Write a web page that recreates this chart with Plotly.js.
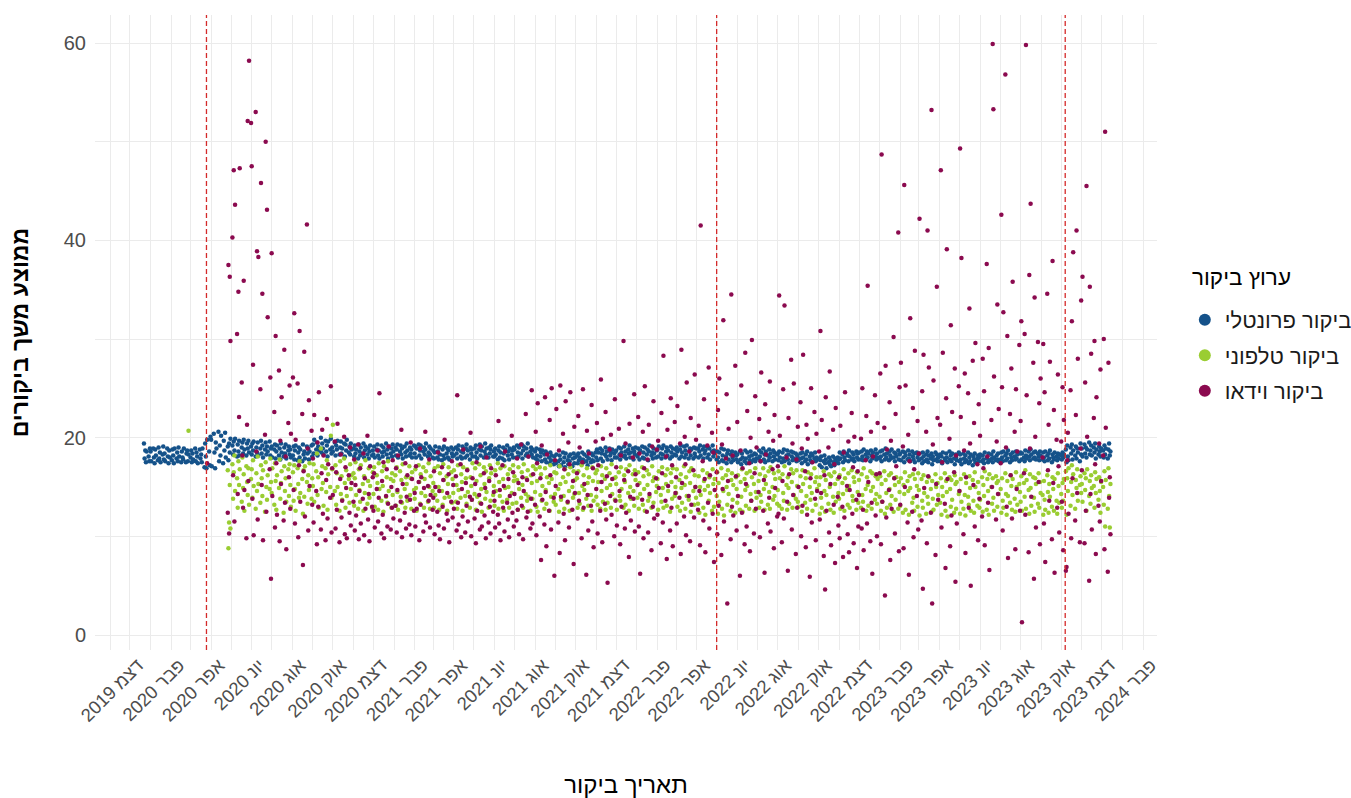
<!DOCTYPE html>
<html lang="he">
<head>
<meta charset="utf-8">
<script src="https://cdn.plot.ly/plotly-3.0.1.min.js"></script>
<style>
  html, body { margin: 0; padding: 0; background: #ffffff; }
  #chart { width: 1351px; height: 798px; }
</style>
</head>
<body>
<div id="chart"></div>
<script>
// Daily mean visit duration by visit channel.
// Each inner list holds one month of values, one per working day (Sun-Thu).

// ---- In-person visits (first value: 2019-12-22) ----
const inPersonStart = '2019-12-22';
const inPerson2019 = [
  [19.4,17.9,18.7,17.5,18.6,18.1,17.6,18.9]
];
const inPerson2020 = [
  [18.6,17.6,18.9,18.0,17.4,18.8,18.2,17.7,19.0,17.9,18.5,17.5,18.3,19.1,17.8,18.4,17.6,18.9,18.1,17.4,18.7,18.0],
  [17.7,18.8,18.2,17.4,18.9,17.9,18.5,17.6,19.0,18.1,17.5,18.6,18.0,17.8,18.9,17.5,18.4,18.7,17.6,18.3],
  [18.0,18.7,17.5,18.4,17.8,18.9,17.6,18.5,18.1,17.4,18.8,17.9,18.3,17.5,18.9,17.0,19.4,18.1,16.9,19.8,18.6,17.2,20.1],
  [19.8,17.1,20.4,18.5,16.9,19.5,18.9,20.6,17.6,19.2,18.2,20.2,17.4,19.7,18.7,20.5,18.0,19.1,17.7,19.4,18.5,19.9],
  [19.2,18.3,19.6,18.7,19.9,18.1,19.3,18.6,19.7,18.2,19.0,19.5,18.4,19.8,18.8,18.2,19.4,18.9,19.7,18.5,19.1],
  [18.3,19.4,18.7,19.6,18.1,19.0,18.5,19.5,18.2,18.9,19.7,18.4,19.2,18.0,18.8,19.5,18.3,19.1,18.6,19.6,18.2,18.9],
  [19.1,18.0,18.8,19.3,17.9,18.6,19.2,18.2,18.9,17.8,19.4,18.5,18.1,19.0,18.4,19.3,17.9,18.7,19.1,18.3,18.8,18.0],
  [18.2,19.1,17.8,18.7,19.2,17.7,18.5,19.0,18.0,18.8,17.6,19.3,18.3,18.6,17.9,19.1,18.4,18.9,17.8,18.6,19.2,18.1],
  [19.3,18.4,19.8,18.8,19.5,18.2,19.1,18.7,20.0,18.5,19.4,18.9,18.3,19.7,18.6,19.2,18.1,19.6,18.8,19.9,18.4,19.0],
  [18.6,19.5,18.2,19.2,18.8,19.7,18.3,19.0,19.6,18.4,18.9,19.4,18.1,19.3,18.7,19.8,18.5,19.1,18.3,19.4,18.8],
  [18.9,18.1,19.2,18.4,18.8,17.9,19.3,18.6,18.2,19.0,18.4,19.4,18.0,18.7,19.1,18.3,18.9,17.9,18.6,19.2,18.2,18.7],
  [18.3,19.1,18.0,18.8,19.3,18.2,18.7,17.9,19.2,18.5,18.1,19.0,18.6,19.4,18.3,18.8,17.9,19.1,18.4,18.9,18.1,19.3,18.6]
];
const inPerson2021 = [
  [19.0,18.2,18.8,19.3,18.0,18.6,19.2,18.3,18.9,17.9,19.1,18.5,18.1,19.4,18.7,18.2,19.0,18.4,18.8,18.0,19.2],
  [18.4,19.1,18.0,18.9,19.3,18.2,18.7,19.2,17.9,18.6,19.0,18.3,18.8,19.4,18.1,18.5,19.1,18.3,18.9,18.0],
  [18.7,17.9,18.5,19.1,18.0,18.6,17.8,19.0,18.3,17.7,18.8,18.2,19.1,17.9,18.4,18.9,18.0,18.7,17.8,19.0,18.4,18.1,18.8],
  [18.2,19.0,18.4,17.9,18.8,19.2,18.1,18.6,17.9,19.1,18.5,18.0,18.9,19.3,18.2,18.7,17.8,19.0,18.4,18.8,18.1],
  [18.9,18.1,19.2,18.5,17.9,18.8,19.3,18.2,18.7,19.1,18.0,18.6,19.4,18.3,18.9,18.0,19.0,18.4,18.8,19.2,18.1,18.6],
  [18.1,18.9,18.3,17.8,18.7,19.1,18.0,18.5,17.9,19.0,18.4,17.7,18.8,19.2,18.2,18.6,17.8,18.9,18.3,18.7,18.0,19.0],
  [18.8,18.0,19.2,18.5,18.1,19.0,18.4,19.3,17.9,18.7,19.1,18.2,18.9,18.4,19.4,18.1,18.6,19.0,18.3,18.8,18.0],
  [18.6,17.9,18.9,18.2,17.7,18.8,18.1,18.5,17.6,18.7,18.3,17.8,18.6,17.5,18.4,18.0,17.4,18.5,17.7,18.2,17.3,18.1,17.6],
  [17.4,18.3,17.6,17.1,18.2,17.8,17.2,18.5,17.5,18.0,17.0,18.4,17.7,17.3,18.1,17.6,18.3,17.1,17.9,18.4,17.4,18.0],
  [18.2,17.4,18.4,17.7,18.0,17.3,18.5,17.8,17.5,18.3,17.6,18.1,17.2,18.6,17.9,17.5,18.4,17.7,18.2,17.6,18.5],
  [18.0,18.8,17.7,18.5,18.9,17.9,18.4,18.7,17.6,18.3,19.0,18.1,18.6,17.8,18.9,18.2,18.5,17.7,18.8,18.4,18.0,18.6],
  [18.7,18.0,19.0,18.3,17.8,18.9,18.5,18.1,19.1,18.2,18.6,17.9,18.8,18.4,19.2,18.0,18.5,18.9,17.8,18.6,18.3,19.0]
];
const inPerson2022 = [
  [18.1,18.9,18.4,17.8,18.7,19.1,18.0,18.5,17.9,19.0,18.3,18.8,17.7,18.6,19.2,18.2,18.5,17.9,18.9,18.4,18.0,18.7],
  [18.8,18.1,19.1,18.4,17.9,18.9,18.3,19.2,18.0,18.6,19.0,18.2,18.7,17.9,19.1,18.5,18.1,18.9,18.3,18.8],
  [18.2,19.0,18.6,17.9,18.8,19.2,18.1,18.5,19.1,18.0,18.7,18.3,19.2,17.9,18.6,18.9,18.2,18.8,17.9,19.0,18.4,18.1,18.9],
  [18.9,18.0,18.6,19.2,18.2,18.8,17.9,19.1,18.4,18.7,18.0,19.0,18.3,18.9,17.8,18.6,19.2,18.1,18.7,18.4],
  [17.8,18.6,18.0,17.5,18.5,18.9,17.7,18.2,17.6,18.8,18.1,17.4,18.4,18.7,17.8,18.3,17.5,18.6,18.0,17.7,18.5,18.2,17.8],
  [18.3,17.5,18.6,17.8,17.3,18.4,18.0,17.6,18.7,17.9,17.4,18.5,18.1,17.7,18.6,17.5,18.2,17.8,18.4,17.6,18.3,17.9],
  [17.9,18.7,18.1,17.6,18.5,18.9,17.8,18.3,17.5,18.6,18.2,17.7,18.8,18.0,18.4,17.6,18.7,18.1,18.5,17.8,18.3],
  [18.4,17.7,18.6,18.0,17.5,18.5,17.9,18.8,17.6,18.2,18.7,17.8,18.3,17.4,18.6,18.1,17.7,18.5,17.9,18.4,17.6,18.2,18.0],
  [17.7,18.4,17.9,17.4,18.5,18.0,17.6,18.3,17.8,18.6,17.3,18.1,17.7,18.4,17.5,18.2,17.9,18.5,17.6,18.0,17.8],
  [17.9,17.2,17.7,18.1,17.0,17.6,18.2,17.4,17.8,16.9,17.5,18.0,17.3,17.7,17.1,18.1,17.5,17.2,17.9,17.6,18.0,17.4],
  [17.8,18.5,17.9,18.3,17.5,18.6,18.0,17.7,18.4,18.2,17.6,18.7,18.1,17.8,18.5,17.9,18.3,17.6,18.6,18.0,18.4,17.8],
  [18.5,17.8,18.6,18.1,17.7,18.8,18.3,17.9,18.6,18.0,18.4,17.6,18.7,18.2,17.9,18.5,18.1,18.8,17.8,18.4,18.0]
];
const inPerson2023 = [
  [17.9,18.6,18.1,17.6,18.7,18.3,17.8,18.9,18.0,18.4,17.7,18.6,18.2,17.9,18.8,18.0,18.5,17.6,18.4,18.1,18.7,17.8,18.3],
  [18.4,17.7,18.6,18.0,17.5,18.5,18.2,17.8,18.7,17.9,18.3,17.6,18.6,18.1,17.8,18.4,17.5,18.5,18.0,18.3],
  [17.7,18.4,17.9,17.4,18.5,18.1,17.6,18.3,17.8,18.6,17.5,18.2,17.9,18.4,17.3,18.1,17.7,18.5,17.8,18.3,17.6,18.0],
  [18.3,17.6,18.1,17.4,18.5,17.9,17.7,18.4,18.0,17.5,18.6,17.8,18.2,17.6,18.4,17.9,17.3,18.3,18.0,17.7,18.5],
  [17.6,18.3,17.8,17.3,18.4,17.9,17.5,18.2,17.7,18.5,17.4,18.0,17.6,18.3,17.2,18.1,17.8,18.4,17.5,17.9,18.2,17.6,18.0],
  [18.3,17.6,18.2,17.8,17.4,18.5,17.9,18.1,17.5,18.4,17.7,18.3,17.9,17.5,18.6,18.0,17.7,18.2,17.8,18.4,17.6],
  [17.8,18.5,18.0,17.6,18.6,18.2,17.7,18.4,17.9,18.7,17.5,18.3,18.0,17.7,18.5,18.1,17.8,18.6,17.9,18.3,17.6,18.4],
  [18.5,17.8,18.4,18.0,17.6,18.7,18.2,17.9,18.6,18.1,17.7,18.8,18.3,17.9,18.5,18.0,18.6,17.8,18.4,18.1,17.7,18.6,18.2],
  [17.8,18.5,18.0,17.6,18.6,18.2,17.7,18.4,17.9,18.7,17.5,18.3,18.0,17.8,18.5,18.1,17.7,18.4,17.9,18.3],
  [18.2,17.8,18.5,18.0,18.3,18.8,17.5,19.2,18.1,17.7,19.0,18.4,19.3,17.8,18.7,18.2,19.1,17.9,18.9,18.5,17.6,19.4,18.3],
  [18.9,18.1,19.3,18.4,19.0,18.0,18.8,19.5,18.3,18.7,19.2,18.2,19.0,18.5,19.4,17.9,18.8,18.3,19.1,18.6,18.1,18.9],
  [18.7,18.0,19.2,18.3,18.9,17.9,18.8,19.4,18.2,18.6]
];

// ---- Phone visits (first value: 2020-04-26) ----
const phoneStart = '2020-04-26';
const phone2020 = [
  [16.7,8.8,11.4,15.2,10.8],
  [17.3,13.8,16.5,18.2,14.6,15.9,12.9,17.6,15.2,16.8,13.5,18.0,14.9,16.3,12.6,17.1,15.5,14.2,16.9,13.2,15.8],
  [16.8,13.9,17.7,15.1,12.8,16.4,14.6,18.1,15.3,13.4,17.2,15.9,14.1,16.7,12.5,17.5,15.0,13.7,16.2,14.8,17.9,15.5],
  [14.4,16.9,13.2,17.4,15.6,12.7,16.2,14.9,17.8,13.8,15.4,16.6,12.4,17.1,14.6,15.9,13.5,16.8,14.1,17.3,15.2,13.0],
  [16.5,13.6,17.2,14.8,12.6,16.9,15.3,13.9,17.6,14.4,15.8,12.3,16.7,14.0,17.1,15.5,13.3,16.2,14.7,17.4,13.8,15.9],
  [15.1,17.3,13.5,16.6,18.4,14.2,16.0,12.9,18.9,14.8,17.1,15.4,13.1,16.9,14.5,17.7,12.7,16.3,15.0,20.2,13.9,16.8],
  [21.3,14.6,17.2,13.2,16.4,15.0,12.6,17.6,14.3,16.1,13.7,17.9,15.4,12.9,16.7,14.1,15.8,13.4,17.3,14.8,16.2],
  [16.4,13.1,15.9,17.5,14.2,12.8,16.8,14.7,13.5,17.2,15.3,12.6,16.1,14.4,17.7,13.3,15.6,16.9,13.9,15.1,12.9,16.5],
  [14.3,17.0,13.0,16.2,15.4,12.7,17.4,14.8,13.6,16.6,15.1,12.5,17.1,14.0,16.0,13.4,17.6,14.6,15.8,12.9,16.4,14.2,15.6]
];
const phone2021 = [
  [16.2,13.1,17.0,14.5,12.7,16.6,14.0,15.7,13.4,17.3,14.8,12.9,16.0,15.3,13.6,17.1,14.2,15.9,12.8,16.5,14.7],
  [13.8,16.8,14.9,12.6,17.2,15.5,13.3,16.3,14.4,17.0,12.9,15.8,14.1,16.6,13.5,17.4,15.0,12.8,16.1,14.6],
  [15.4,12.9,16.9,14.2,13.6,17.1,15.0,12.7,16.4,14.6,13.2,17.3,15.7,13.9,16.1,12.6,15.3,17.0,14.0,16.5,13.4,15.8,14.4],
  [16.7,13.5,15.2,12.8,17.2,14.7,13.9,16.3,15.5,12.6,17.0,14.1,15.9,13.3,16.8,14.5,12.9,16.0,15.1,13.7,17.4],
  [14.3,16.9,12.7,15.6,14.0,17.3,13.4,16.2,14.8,12.5,17.0,15.3,13.8,16.6,14.5,12.9,15.9,17.2,13.6,16.4,14.2,15.1],
  [13.1,16.7,14.6,17.4,12.8,15.5,14.1,16.9,13.5,15.8,12.6,17.1,14.9,13.7,16.3,15.0,12.9,16.8,14.4,13.3,17.2,15.6],
  [16.1,13.4,15.7,12.7,17.0,14.8,13.9,16.5,15.2,12.9,17.3,14.3,15.9,13.6,16.7,14.0,12.6,16.2,15.4,13.8,17.1],
  [14.5,16.8,13.0,15.6,12.5,17.0,14.2,16.3,13.6,15.1,12.8,16.9,14.7,13.3,16.0,15.4,12.6,17.2,14.0,15.8,13.5,16.5,14.3],
  [13.2,16.4,14.8,12.5,17.1,15.3,13.7,16.0,14.1,12.8,16.8,15.5,13.4,16.3,14.6,12.6,17.0,15.0,13.9,16.6,14.3,15.7],
  [15.9,12.9,16.6,14.4,13.3,17.2,15.1,12.7,16.2,14.7,13.8,16.9,15.4,13.1,16.0,14.2,12.6,17.0,15.6,13.6,16.4],
  [14.0,16.7,13.2,15.5,12.8,17.1,14.6,16.2,13.5,15.8,12.7,16.9,14.9,13.4,16.4,15.2,12.9,17.3,14.3,15.9,13.7,16.0],
  [15.3,12.7,16.5,14.1,13.6,17.0,14.8,12.9,16.2,15.5,13.2,16.8,14.4,12.6,17.2,15.0,13.8,16.3,14.6,13.1,16.7,15.7]
];
const phone2022 = [
  [13.9,16.5,12.8,15.4,14.3,17.0,13.2,16.1,14.8,12.6,16.7,15.2,13.6,16.3,14.0,12.9,17.1,15.6,13.4,16.0,14.5,15.1],
  [15.8,12.7,16.6,14.2,13.5,17.0,14.9,12.9,16.2,15.3,13.1,16.8,14.6,12.5,16.4,15.5,13.8,16.9,14.1,15.0],
  [14.4,16.8,13.0,15.7,12.6,16.3,14.9,13.4,17.1,15.2,12.8,16.0,14.1,13.7,16.6,15.4,12.5,16.9,14.6,13.2,16.2,15.0,13.9],
  [13.3,16.1,12.4,15.0,14.2,16.7,12.9,15.6,14.7,12.2,16.4,15.1,13.6,16.0,14.4,12.6,16.8,15.3,13.0,15.8],
  [14.1,16.5,12.3,15.4,13.5,16.9,12.8,15.9,14.6,12.1,16.2,15.0,13.2,16.7,14.3,12.6,15.7,16.4,13.7,15.2,12.4,16.0,14.8],
  [13.4,16.2,12.7,15.5,14.0,16.8,12.5,15.8,14.7,13.1,16.4,15.1,12.8,16.6,14.3,13.6,16.0,15.3,12.6,16.9,14.5,13.9],
  [15.6,12.9,16.3,14.2,13.5,16.9,14.8,12.7,16.1,15.3,13.2,16.6,14.5,12.8,17.0,15.0,13.7,16.4,14.1,15.8,13.3],
  [14.7,16.6,13.1,15.9,12.8,16.3,14.4,13.6,17.1,15.2,12.7,16.0,14.9,13.3,16.8,15.5,12.9,16.4,14.2,13.8,16.7,15.1,13.5],
  [13.0,16.1,14.6,12.5,16.7,15.3,13.4,15.9,14.1,12.8,16.5,15.0,13.7,16.3,14.4,12.6,16.9,15.5,13.2,16.0,14.8],
  [15.2,12.3,16.0,13.9,12.9,16.6,14.6,12.5,15.7,14.2,13.3,16.3,15.0,12.7,16.1,14.0,12.4,16.5,15.3,13.5,15.8,14.4],
  [13.8,16.2,12.8,15.4,14.3,16.8,12.6,15.9,14.7,13.2,16.4,15.1,12.9,16.7,14.1,13.6,16.0,15.5,12.7,16.5,14.5,13.4],
  [15.7,12.9,16.3,14.2,13.5,16.9,14.8,12.6,16.0,15.2,13.1,16.6,14.6,12.8,16.4,15.0,13.7,16.1,14.3,13.3,15.8]
];
const phone2023 = [
  [14.0,16.1,12.6,15.3,13.5,16.6,12.3,15.7,14.4,12.9,16.2,14.8,13.2,16.4,14.1,12.5,15.9,15.2,13.7,16.0,12.8,15.5,14.5],
  [13.1,15.9,12.4,15.2,14.3,16.5,12.7,15.6,14.6,12.2,16.1,14.9,13.4,16.3,13.9,12.6,15.8,15.1,13.0,16.4],
  [14.7,12.1,15.8,13.6,12.9,16.2,14.4,12.3,15.5,14.0,13.3,16.0,14.8,12.5,15.6,13.8,12.7,16.3,15.0,13.2,15.4,14.2],
  [13.4,15.9,12.2,15.0,14.1,16.4,12.6,15.6,14.5,12.0,16.0,14.8,13.0,15.7,13.7,12.4,16.2,15.3,12.8,15.5,14.3],
  [14.6,12.3,15.8,13.5,12.8,16.3,14.2,12.1,15.4,14.0,13.2,16.1,14.9,12.6,15.7,13.6,12.4,16.5,15.0,13.1,15.5,14.4,12.9],
  [13.7,16.0,12.5,15.2,14.1,16.6,12.7,15.8,14.6,12.2,16.3,15.0,13.3,15.9,13.9,12.6,16.1,15.4,13.0,15.6,14.3],
  [14.8,12.4,15.9,13.6,12.9,16.4,14.3,12.2,15.6,14.1,13.4,16.2,15.1,12.7,15.8,13.8,12.5,16.5,15.0,13.2,15.3,14.5],
  [13.5,16.1,12.6,15.4,14.0,16.7,12.8,15.7,14.7,12.3,16.3,14.9,13.1,16.0,13.9,12.5,15.9,15.3,13.3,16.4,12.9,15.5,14.4],
  [14.2,12.2,15.6,13.7,12.7,16.2,14.5,12.4,15.3,14.0,13.0,16.0,14.8,12.6,15.8,13.6,12.3,16.4,15.1,13.4],
  [14.3,12.9,15.4,13.6,15.8,16.6,12.2,15.9,14.6,16.9,13.1,15.5,17.2,14.2,16.3,12.8,15.7,14.9,16.8,13.6,15.2,16.1,14.4],
  [15.3,13.5,16.4,14.7,15.9,12.6,16.8,14.1,15.6,13.3,16.2,14.9,15.1,12.9,16.5,14.4,15.8,13.7,16.0,14.6,12.4,15.5],
  [15.0,13.2,16.6,11.0,15.7,12.8,16.9,14.1,10.9,15.3]
];

// ---- Video visits (first value: 2020-04-26) ----
const videoStart = '2020-04-26';
const video2020 = [
  [12.4,37.5,10.3,36.3,29.8],
  [40.3,16.2,47.1,11.5,43.6,30.5,14.3,34.8,22.1,47.3,25.6,18.2,12.9,35.9,14.7,9.8,21.3,52.1,15.6,58.2,51.9],
  [47.5,13.8,27.4,10.1,53.0,18.6,38.9,11.7,38.3,24.9,45.8,15.2,34.6,9.6,20.3,50.0,12.5,43.1,32.2,16.8,26.1,5.7],
  [38.7,14.1,22.6,10.9,30.3,17.4,12.2,26.8,9.5,19.7,15.3,24.1,11.6,28.9,13.4,18.1,8.7,21.5,16.0,25.3,12.8,20.4],
  [26.1,14.7,32.6,11.3,19.8,25.5,9.9,17.2,30.8,13.5,22.4,7.1,16.6,28.7,12.0,41.6,18.9,10.6,23.8,15.1,20.7,13.2],
  [17.9,11.4,22.3,14.6,9.2,19.5,13.0,24.6,10.7,16.4,20.8,12.3,18.2,9.6,15.7,21.9,11.8,17.3,13.9,25.2,10.4,16.9],
  [14.2,19.6,10.8,16.5,12.7,21.4,9.4,15.8,18.3,11.9,13.6,20.1,10.2,17.0,14.9,9.8,16.2,12.4,19.0,11.1,15.4],
  [13.5,17.8,10.6,15.2,12.1,19.3,9.7,14.6,16.9,11.3,13.8,18.4,10.1,15.9,12.8,20.2,11.7,14.3,9.5,17.1,13.0,16.0],
  [12.6,16.4,10.9,14.8,18.7,11.5,13.9,24.5,10.3,15.6,12.2,17.5,9.8,14.1,16.8,11.0,13.3,19.1,10.7,15.0,12.9,17.7,11.8]
];
const video2021 = [
  [13.1,16.9,10.4,14.7,18.2,11.6,13.5,20.8,9.9,15.3,12.4,17.4,10.8,14.0,16.2,11.2,13.7,19.5,10.1,15.8,12.6],
  [14.4,11.0,17.1,12.8,15.5,9.6,18.9,13.2,16.0,10.5,14.9,12.1,20.6,11.4,15.1,13.6,17.8,10.9,14.2,12.7],
  [13.9,16.6,10.2,15.0,12.5,18.5,11.1,14.6,9.7,17.0,13.0,15.7,10.8,19.8,12.3,14.4,11.6,16.3,9.4,13.5,17.6,11.9,15.2],
  [12.8,16.1,10.6,24.3,13.4,11.2,17.3,9.9,14.8,12.0,18.8,10.4,15.4,13.1,16.7,11.5,14.0,20.5,10.0,13.7,15.9],
  [11.8,15.3,9.3,17.5,12.6,14.2,10.7,19.1,13.3,11.0,16.4,12.1,14.9,9.8,18.0,11.4,15.6,13.0,10.3,16.9,12.5,14.5],
  [13.6,10.9,16.2,12.2,21.7,11.3,14.7,9.6,17.2,12.9,15.1,10.5,18.6,13.4,11.7,15.8,9.9,14.1,20.2,12.4,16.5,11.0],
  [14.3,11.6,17.9,12.7,15.4,10.2,19.3,13.1,16.0,9.7,14.6,22.4,11.9,15.7,12.5,18.1,10.8,13.8,24.8,11.3,16.3],
  [13.2,20.6,10.1,17.4,23.5,12.0,15.9,7.6,19.2,13.7,11.2,24.1,14.5,9.0,18.3,12.6,21.8,16.2,10.7,25.0,13.9,6.0,17.7],
  [15.1,22.9,11.4,18.7,8.3,25.3,14.0,20.4,12.3,16.8,9.6,23.7,13.5,19.5,10.9,17.3,24.6,12.7,15.6,7.2,21.1,14.4],
  [16.4,11.8,22.2,13.6,19.0,9.8,17.5,24.9,12.9,15.3,6.1,20.7,14.2,10.6,18.4,13.1,23.3,11.5,16.9,8.9,19.6],
  [14.8,21.5,10.3,17.2,12.6,25.9,15.5,9.4,19.9,13.3,22.6,11.7,16.1,5.3,18.8,14.1,20.3,12.2,15.8,10.0,23.9,13.6],
  [17.0,11.1,20.9,14.6,9.2,18.2,13.0,29.8,15.7,10.8,19.4,12.4,16.6,7.9,21.4,14.0,11.6,18.0,13.8,24.4,10.5,16.3]
];
const video2022 = [
  [15.2,22.1,11.0,18.4,6.2,13.7,20.6,9.8,16.9,25.2,12.5,17.8,10.4,21.3,14.3,8.6,19.1,13.0,23.7,11.8,15.9,18.8],
  [12.2,19.7,14.9,9.3,22.5,16.4,11.4,28.3,13.6,18.1,7.7,20.8,15.1,10.6,24.0,12.9,17.2,9.0,21.6,14.4],
  [16.0,11.3,23.2,13.9,19.4,8.2,28.9,15.4,12.0,20.1,17.3,10.1,25.6,14.1,18.6,9.5,22.0,13.2,16.7,11.9,26.4,15.0,19.8],
  [12.7,21.2,14.6,9.1,41.5,17.6,11.6,23.9,15.8,8.4,19.2,13.4,27.1,10.8,16.2,20.5,12.3,18.5,7.4,14.7],
  [16.5,10.2,22.8,13.1,26.0,8.1,19.3,14.8,31.9,11.5,17.9,24.4,3.2,15.6,20.9,9.7,34.5,13.0,18.2,12.1,27.3,16.1,10.6],
  [21.6,14.1,6.0,18.7,25.3,12.4,16.9,9.2,28.6,15.3,11.0,22.7,17.4,8.5,20.0,13.6,29.9,10.3,16.4,24.2,12.8,19.0],
  [14.5,21.9,9.9,17.6,26.6,12.6,15.7,6.3,23.4,18.3,11.3,20.6,13.9,25.7,10.5,16.8,19.7,8.8,22.3,14.9,12.0],
  [17.1,12.3,34.4,20.2,9.4,15.6,24.9,11.8,33.4,18.0,13.5,6.5,22.0,16.3,27.9,10.7,19.4,14.2,25.5,8.2,17.8,12.9,21.1],
  [15.0,23.6,10.0,18.9,13.1,28.4,16.6,8.9,21.3,12.2,19.9,5.9,15.9,25.0,11.4,17.5,22.6,13.8,9.6,20.4,14.6],
  [18.6,11.7,30.8,14.4,21.8,8.0,16.2,4.6,24.1,12.6,19.0,10.4,26.7,15.3,9.1,20.8,13.2,17.3,7.3,23.0,14.0,11.1],
  [16.0,9.8,21.2,13.0,7.9,18.5,11.9,24.6,15.1,10.2,19.6,8.4,14.7,22.5,12.3,17.0,9.3,20.1,13.7,6.8,16.6,11.0],
  [14.2,19.9,10.8,25.0,12.7,8.6,17.7,22.2,11.3,35.4,15.5,9.5,20.6,13.4,6.2,18.1,24.3,12.1,16.3,10.0,21.5]
];
const video2023 = [
  [16.4,26.5,9.2,48.7,13.5,21.0,4.0,27.3,11.9,18.8,14.7,23.6,7.6,19.7,12.8,30.2,15.9,10.3,22.4,17.1,40.8,8.5,25.1],
  [13.2,27.6,19.1,8.8,45.6,15.0,25.3,11.4,20.3,6.1,17.6,32.1,12.5,23.0,9.9,16.8,28.8,14.1,21.7,10.7],
  [18.4,42.2,11.6,24.7,4.7,28.4,14.9,20.6,9.3,41.0,16.1,27.1,12.4,53.2,3.2,19.3,25.8,8.1,15.3,35.3,22.0,13.7],
  [21.3,47.1,10.9,17.5,28.6,13.3,6.8,24.0,39.1,15.8,19.9,9.0,31.4,12.1,22.6,16.5,27.0,5.4,18.2,11.3,25.2],
  [14.6,49.3,22.1,38.2,10.2,18.7,26.5,8.3,16.0,24.5,12.9,33.1,19.4,5.0,27.8,15.2,21.5,11.0,29.6,17.3,9.6,23.4,13.8],
  [20.2,12.0,28.0,16.9,24.7,9.1,37.6,18.1,13.4,29.1,6.6,21.8,15.0,59.9,53.3,26.2,11.7,19.6,33.5,14.3,22.9],
  [17.4,42.6,25.1,10.6,32.7,56.8,19.0,13.0,30.3,7.8,22.4,16.2,27.0,11.8,35.8,20.6,8.7,24.9,14.8,18.6,29.4,12.6],
  [21.7,31.8,1.3,16.4,30.5,12.2,59.8,24.3,8.4,36.5,18.9,43.7,14.0,27.6,5.7,34.2,20.1,10.9,29.7,15.5,23.5,9.2,26.0],
  [18.0,29.5,11.3,24.6,7.4,34.6,16.7,21.3,13.6,27.7,9.7,37.9,15.4,22.8,6.3,19.8,12.9,26.4,17.1,10.4],
  [19.6,13.5,25.1,8.6,21.8,6.5,6.9,17.7,20.5,12.3,24.8,9.8,31.8,15.9,38.8,11.6,22.3,41.0,14.4,28.0,9.4,18.9,33.9],
  [16.7,36.3,9.3,25.6,12.6,45.5,20.1,5.5,35.3,14.3,28.5,10.7,22.0,29.8,17.3,8.2,24.1,13.1,19.4,11.5,26.9,15.6],
  [18.2,30.0,8.7,51.0,21.0,6.4,27.6,13.9,16.0,10.2]
];

// Isolated remote visits before the regular series begin
const phoneExtraDates = ['2020-02-27'];
const phoneExtraValues = [20.7];
const videoExtraDates = ['2020-03-26'];
const videoExtraValues = [17.4];

// Reference dates marked with dashed lines
const eventDates = ['2020-03-25', '2022-05-01', '2023-10-07'];

// Axis ticks
const tickDates = [
  '2019-12-01','2020-02-01','2020-04-01','2020-06-01','2020-08-01','2020-10-01',
  '2020-12-01','2021-02-01','2021-04-01','2021-06-01','2021-08-01','2021-10-01',
  '2021-12-01','2022-02-01','2022-04-01','2022-06-01','2022-08-01','2022-10-01',
  '2022-12-01','2023-02-01','2023-04-01','2023-06-01','2023-08-01','2023-10-01',
  '2023-12-01','2024-02-01'
];
const hebMonths = ['ינו','פבר','מרץ','אפר','מאי','יונ','יול','אוג','ספט','אוק','נוב','דצמ'];

const channelNames = ['ביקור פרונטלי', 'ביקור טלפוני', 'ביקור וידאו'];
const channelColors = ['#15528a', '#9acd32', '#8b0a4f'];
const legendTitle = 'ערוץ ביקור';

// ---------------------------------------------------------------
const pad = n => String(n).padStart(2, '0');

function workdays(y, m, fromDay) {
  const out = [];
  const last = new Date(Date.UTC(y, m + 1, 0)).getUTCDate();
  for (let d = fromDay; d <= last; d++) {
    const wd = new Date(Date.UTC(y, m, d)).getUTCDay();
    if (wd <= 4) out.push(y + '-' + pad(m + 1) + '-' + pad(d));
  }
  return out;
}

function buildSeries(start, months, extraDates, extraValues) {
  const [y0, m0, d0] = start.split('-').map(Number);
  const xs = [], ys = [];
  (extraDates || []).forEach((d, i) => { xs.push(d); ys.push(extraValues[i]); });
  months.forEach((vals, i) => {
    const mi = (m0 - 1) + i;
    const y = y0 + Math.floor(mi / 12), m = mi % 12;
    const days = workdays(y, m, i === 0 ? d0 : 1);
    vals.forEach((v, k) => { if (k < days.length) { xs.push(days[k]); ys.push(v); } });
  });
  return { x: xs, y: ys };
}

const inPerson = buildSeries(inPersonStart,
  [...inPerson2019, ...inPerson2020, ...inPerson2021, ...inPerson2022, ...inPerson2023]);
const phone = buildSeries(phoneStart,
  [...phone2020, ...phone2021, ...phone2022, ...phone2023], phoneExtraDates, phoneExtraValues);
const video = buildSeries(videoStart,
  [...video2020, ...video2021, ...video2022, ...video2023], videoExtraDates, videoExtraValues);

const FONT = 'Liberation Sans, Arial, DejaVu Sans, sans-serif';

const traces = [inPerson, phone, video].map((s, i) => ({
  type: 'scatter',
  mode: 'markers',
  x: s.x,
  y: s.y,
  name: channelNames[i],
  legendgroup: 'g' + i,
  marker: { color: channelColors[i], size: 4.5, line: { width: 0 } },
  hoverinfo: 'x+y+name'
}));

const tickText = tickDates.map(d => {
  const [y, m] = d.split('-').map(Number);
  return y + ' ' + hebMonths[m - 1];
});

const shapes = eventDates.map(d => ({
  type: 'line', xref: 'x', yref: 'paper',
  x0: d, x1: d, y0: 0, y1: 1,
  line: { color: '#d42a2a', width: 1.3, dash: '5px,3px' }
}));

const layout = {
  width: 1351,
  height: 798,
  margin: { l: 95, r: 194, t: 15, b: 148, autoexpand: false },
  paper_bgcolor: '#ffffff',
  plot_bgcolor: '#ffffff',
  font: { family: FONT, color: '#4d4d4d' },
  showlegend: true,
  xaxis: {
    type: 'date',
    range: ['2019-10-09 10:00', '2024-02-22'],
    tickmode: 'array',
    tickvals: tickDates,
    ticktext: tickText,
    tickangle: -45,
    ticklabelshift: 8,
    tickfont: { size: 18.5, color: '#4d4d4d', family: FONT },
    showgrid: true,
    gridcolor: '#ebebeb',
    gridwidth: 1,
    minor: { tick0: '2019-11-01', dtick: 'M1', showgrid: true, gridcolor: '#ebebeb', gridwidth: 1, ticks: '' },
    zeroline: false,
    showline: false,
    ticks: '',
    automargin: false,
    title: { text: 'תאריך ביקור', font: { size: 24, color: '#000000', family: FONT }, standoff: 51 }
  },
  yaxis: {
    range: [-1.52, 62.84],
    tickmode: 'array',
    tickvals: [0, 20, 40, 60],
    ticktext: ['0', '20', '40', '60'],
    ticklabelstandoff: 8,
    tickfont: { size: 20, color: '#4d4d4d', family: FONT },
    showgrid: true,
    gridcolor: '#ebebeb',
    gridwidth: 1,
    minor: { tickmode: 'array', tickvals: [10, 30, 50], showgrid: true, gridcolor: '#ebebeb', gridwidth: 1, ticks: '' },
    zeroline: false,
    showline: false,
    ticks: '',
    automargin: false,
    title: { text: '<b>ממוצע משך ביקורים</b>', font: { size: 23, color: '#000000', family: FONT }, standoff: 28 }
  },
  legend: {
    xref: 'container', yref: 'container',
    x: 0.877, xanchor: 'left',
    y: 0.6255, yanchor: 'top',
    bgcolor: 'rgba(0,0,0,0)',
    itemsizing: 'constant',
    traceorder: 'grouped',
    tracegroupgap: 4,
    font: { size: 22, color: '#1a1a1a', family: FONT }
  },
  annotations: [{
    text: legendTitle,
    xref: 'paper', yref: 'paper',
    x: 1.031, xanchor: 'left',
    y: 0.587, yanchor: 'middle',
    showarrow: false,
    font: { size: 22.5, color: '#000000', family: FONT }
  }],
  shapes: shapes
};

Plotly.newPlot('chart', traces, layout, { displayModeBar: false, responsive: false });
</script>
</body>
</html>
